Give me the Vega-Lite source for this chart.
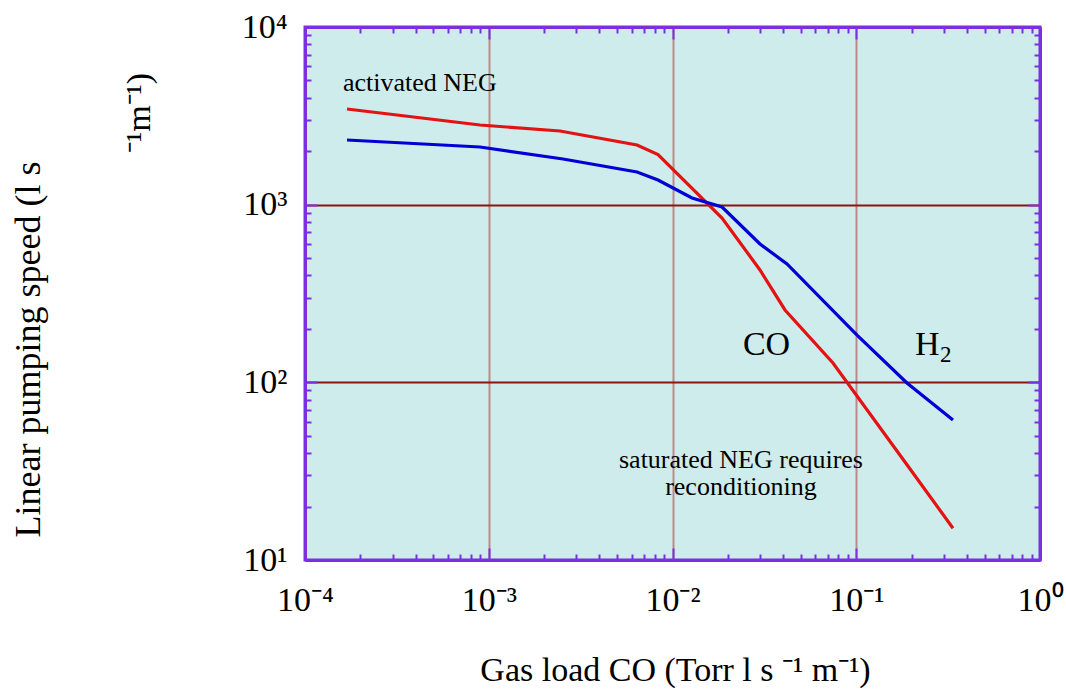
{
  "$schema": "https://vega.github.io/schema/vega-lite/v6.json",
  "width": 735,
  "height": 533,
  "autosize": {"type": "none"},
  "padding": {"left": 305, "top": 27, "right": 26, "bottom": 130},
  "background": "white",
  "config": {
    "view": {"fill": "#ceeceb", "stroke": "#7a30e0", "strokeWidth": 3},
    "font": "Liberation Serif"
  },
  "datasets": {
    "curves": [
      {"gas": "CO", "load": 0.0001693, "speed": 3455},
      {"gas": "CO", "load": 0.000896, "speed": 2808},
      {"gas": "CO", "load": 0.002442, "speed": 2598},
      {"gas": "CO", "load": 0.00641, "speed": 2167},
      {"gas": "CO", "load": 0.00834, "speed": 1916},
      {"gas": "CO", "load": 0.0186, "speed": 841},
      {"gas": "CO", "load": 0.02993, "speed": 429},
      {"gas": "CO", "load": 0.04095, "speed": 255.5},
      {"gas": "CO", "load": 0.0747, "speed": 128.5},
      {"gas": "CO", "load": 0.1842, "speed": 35.6},
      {"gas": "CO", "load": 0.3361, "speed": 15.1},
      {"gas": "H2", "load": 0.0001693, "speed": 2312},
      {"gas": "H2", "load": 0.000896, "speed": 2112},
      {"gas": "H2", "load": 0.002536, "speed": 1807},
      {"gas": "H2", "load": 0.00641, "speed": 1527},
      {"gas": "H2", "load": 0.00834, "speed": 1377},
      {"gas": "H2", "load": 0.01277, "speed": 1090},
      {"gas": "H2", "load": 0.0186, "speed": 970},
      {"gas": "H2", "load": 0.02993, "speed": 600.6},
      {"gas": "H2", "load": 0.04199, "speed": 463.7},
      {"gas": "H2", "load": 0.101, "speed": 184.6},
      {"gas": "H2", "load": 0.1888, "speed": 99.2},
      {"gas": "H2", "load": 0.3361, "speed": 61.4}
    ]
  },
  "layer": [
    {
      "data": {"name": "curves"},
      "mark": {"type": "line", "strokeWidth": 3.2},
      "encoding": {
        "x": {
          "field": "load", "type": "quantitative",
          "scale": {"type": "log", "domain": [0.0001, 1], "nice": false},
          "axis": {
            "orient": "bottom",
            "values": [0.0001,0.0002,0.0003,0.0004,0.0005,0.0006,0.0007,0.0008,0.0009,0.001,0.002,0.003,0.004,0.005,0.006,0.007,0.008,0.009,0.01,0.02,0.03,0.04,0.05,0.06,0.07,0.08,0.09,0.1,0.2,0.3,0.4,0.5,0.6,0.7,0.8,0.9,1],
            "labelExpr": "abs(log(datum.value)/LN10 - round(log(datum.value)/LN10)) < 0.001 ? '10' + ['⁻⁴','⁻³','⁻²','⁻¹','⁰'][round(log(datum.value)/LN10)+4] : ''",
            "labelFont": "Liberation Serif", "labelFontSize": 34, "labelColor": "black",
            "labelBaseline": "top", "labelAlign": "center",
            "labelPadding": 35, "labelOverlap": false, "labelFlush": false,
            "tickColor": "#7a30e0", "tickWidth": 2,
            "tickSize": {"condition": {"test": "abs(log(datum.value)/LN10 - round(log(datum.value)/LN10)) < 0.001", "value": -12}, "value": -6},
            "domainColor": "#7a30e0", "domainWidth": 3,
            "grid": true, "gridColor": "#b98a8a", "gridWidth": 2,
            "gridOpacity": {"condition": {"test": "abs(log(datum.value)/LN10 - round(log(datum.value)/LN10)) < 0.001 && datum.value > 0.00015 && datum.value < 0.5", "value": 1}, "value": 0},
            "title": "Gas load CO (Torr l s ⁻¹ m⁻¹)",
            "titleFont": "Liberation Serif", "titleFontSize": 34, "titleFontWeight": "normal", "titleColor": "black",
            "titleX": 370, "titleY": 120, "titleAlign": "center", "titleBaseline": "alphabetic", "titleAngle": 0
          }
        },
        "y": {
          "field": "speed", "type": "quantitative",
          "scale": {"type": "log", "domain": [10, 10000], "nice": false},
          "axis": {
            "orient": "left",
            "values": [10,20,30,40,50,60,70,80,90,100,200,300,400,500,600,700,800,900,1000,2000,3000,4000,5000,6000,7000,8000,9000,10000],
            "labelExpr": "abs(log(datum.value)/LN10 - round(log(datum.value)/LN10)) < 0.001 ? '10' + ['¹','²','³','⁴'][round(log(datum.value)/LN10)-1] : ''",
            "labelFont": "Liberation Serif", "labelFontSize": 34, "labelColor": "black",
            "labelBaseline": "middle", "labelAlign": "right",
            "labelPadding": 30, "labelOverlap": false, "labelFlush": false,
            "tickColor": "#7a30e0", "tickWidth": 2,
            "tickSize": {"condition": {"test": "abs(log(datum.value)/LN10 - round(log(datum.value)/LN10)) < 0.001", "value": -12}, "value": -6},
            "domainColor": "#7a30e0", "domainWidth": 3,
            "grid": true, "gridColor": "#8b1414", "gridWidth": 2,
            "gridOpacity": {"condition": {"test": "abs(log(datum.value)/LN10 - round(log(datum.value)/LN10)) < 0.001 && datum.value > 15 && datum.value < 5000", "value": 1}, "value": 0},
            "title": "Linear pumping speed (l s",
            "titleFont": "Liberation Serif", "titleFontSize": 36, "titleFontWeight": "normal", "titleColor": "black",
            "titleX": -266, "titleY": 322, "titleAlign": "center", "titleBaseline": "alphabetic", "titleAngle": 270
          }
        },
        "color": {
          "field": "gas", "type": "nominal",
          "scale": {"domain": ["CO", "H2"], "range": ["#e41212", "#0000d6"]},
          "legend": null
        }
      }
    },
    {
      "data": {"name": "curves"},
      "mark": {"type": "line", "strokeOpacity": 0},
      "encoding": {
        "x": {
          "field": "load", "type": "quantitative",
          "scale": {"type": "log", "domain": [0.0001, 1], "nice": false},
          "axis": {
            "orient": "top",
            "values": [0.0001,0.0002,0.0003,0.0004,0.0005,0.0006,0.0007,0.0008,0.0009,0.001,0.002,0.003,0.004,0.005,0.006,0.007,0.008,0.009,0.01,0.02,0.03,0.04,0.05,0.06,0.07,0.08,0.09,0.1,0.2,0.3,0.4,0.5,0.6,0.7,0.8,0.9,1],
            "labels": false, "grid": false, "title": null,
            "tickColor": "#7a30e0", "tickWidth": 2,
            "tickSize": {"condition": {"test": "abs(log(datum.value)/LN10 - round(log(datum.value)/LN10)) < 0.001", "value": -12}, "value": -6},
            "domainColor": "#7a30e0", "domainWidth": 3
          }
        },
        "y": {
          "field": "speed", "type": "quantitative",
          "scale": {"type": "log", "domain": [10, 10000], "nice": false},
          "axis": {
            "orient": "right",
            "values": [10,20,30,40,50,60,70,80,90,100,200,300,400,500,600,700,800,900,1000,2000,3000,4000,5000,6000,7000,8000,9000,10000],
            "labels": false, "grid": false, "title": null,
            "tickColor": "#7a30e0", "tickWidth": 2,
            "tickSize": {"condition": {"test": "abs(log(datum.value)/LN10 - round(log(datum.value)/LN10)) < 0.001", "value": -12}, "value": -6},
            "domainColor": "#7a30e0", "domainWidth": 3
          }
        },
        "detail": {"field": "gas", "type": "nominal"}
      }
    },
    {
      "data": {"values": [{}]},
      "mark": {"type": "text", "align": "left", "baseline": "alphabetic", "fontSize": 26, "font": "Liberation Serif", "color": "black"},
      "encoding": {
        "x": {"datum": 0.0001609, "type": "quantitative", "scale": {"type": "log", "domain": [0.0001, 1], "nice": false}, "axis": null},
        "y": {"datum": 4363, "type": "quantitative", "scale": {"type": "log", "domain": [10, 10000], "nice": false}, "axis": null},
        "text": {"value": "activated NEG"}
      }
    },
    {
      "data": {"values": [{}]},
      "mark": {"type": "text", "align": "center", "baseline": "alphabetic", "fontSize": 34, "font": "Liberation Serif", "color": "black"},
      "encoding": {
        "x": {"datum": 0.03248, "type": "quantitative", "scale": {"type": "log", "domain": [0.0001, 1], "nice": false}, "axis": null},
        "y": {"datum": 142.5, "type": "quantitative", "scale": {"type": "log", "domain": [10, 10000], "nice": false}, "axis": null},
        "text": {"value": "CO"}
      }
    },
    {
      "data": {"values": [{}]},
      "mark": {"type": "text", "align": "left", "baseline": "alphabetic", "fontSize": 34, "font": "Liberation Serif", "color": "black"},
      "encoding": {
        "x": {"datum": 0.2088, "type": "quantitative", "scale": {"type": "log", "domain": [0.0001, 1], "nice": false}, "axis": null},
        "y": {"datum": 142.5, "type": "quantitative", "scale": {"type": "log", "domain": [10, 10000], "nice": false}, "axis": null},
        "text": {"value": "H"}
      }
    },
    {
      "data": {"values": [{}]},
      "mark": {"type": "text", "align": "left", "baseline": "alphabetic", "fontSize": 23, "font": "Liberation Serif", "color": "black"},
      "encoding": {
        "x": {"datum": 0.2857, "type": "quantitative", "scale": {"type": "log", "domain": [0.0001, 1], "nice": false}, "axis": null},
        "y": {"datum": 130.2, "type": "quantitative", "scale": {"type": "log", "domain": [10, 10000], "nice": false}, "axis": null},
        "text": {"value": "2"}
      }
    },
    {
      "data": {"values": [{}]},
      "mark": {"type": "text", "align": "center", "baseline": "alphabetic", "fontSize": 26, "lineHeight": 27, "font": "Liberation Serif", "color": "black"},
      "encoding": {
        "x": {"datum": 0.02359, "type": "quantitative", "scale": {"type": "log", "domain": [0.0001, 1], "nice": false}, "axis": null},
        "y": {"datum": 32.96, "type": "quantitative", "scale": {"type": "log", "domain": [10, 10000], "nice": false}, "axis": null},
        "text": {"value": ["saturated NEG requires", "reconditioning"]}
      }
    },
    {
      "data": {"values": [{}]},
      "mark": {"type": "text", "align": "center", "baseline": "alphabetic", "angle": 270, "fontSize": 34, "font": "Liberation Serif", "color": "black"},
      "encoding": {
        "x": {"datum": 0.00001433, "type": "quantitative", "scale": {"type": "log", "domain": [0.0001, 1], "nice": false}, "axis": null},
        "y": {"datum": 3281, "type": "quantitative", "scale": {"type": "log", "domain": [10, 10000], "nice": false}, "axis": null},
        "text": {"value": "⁻¹m⁻¹)"}
      }
    }
  ],
  "resolve": {"axis": {"x": "independent", "y": "independent"}}
}
